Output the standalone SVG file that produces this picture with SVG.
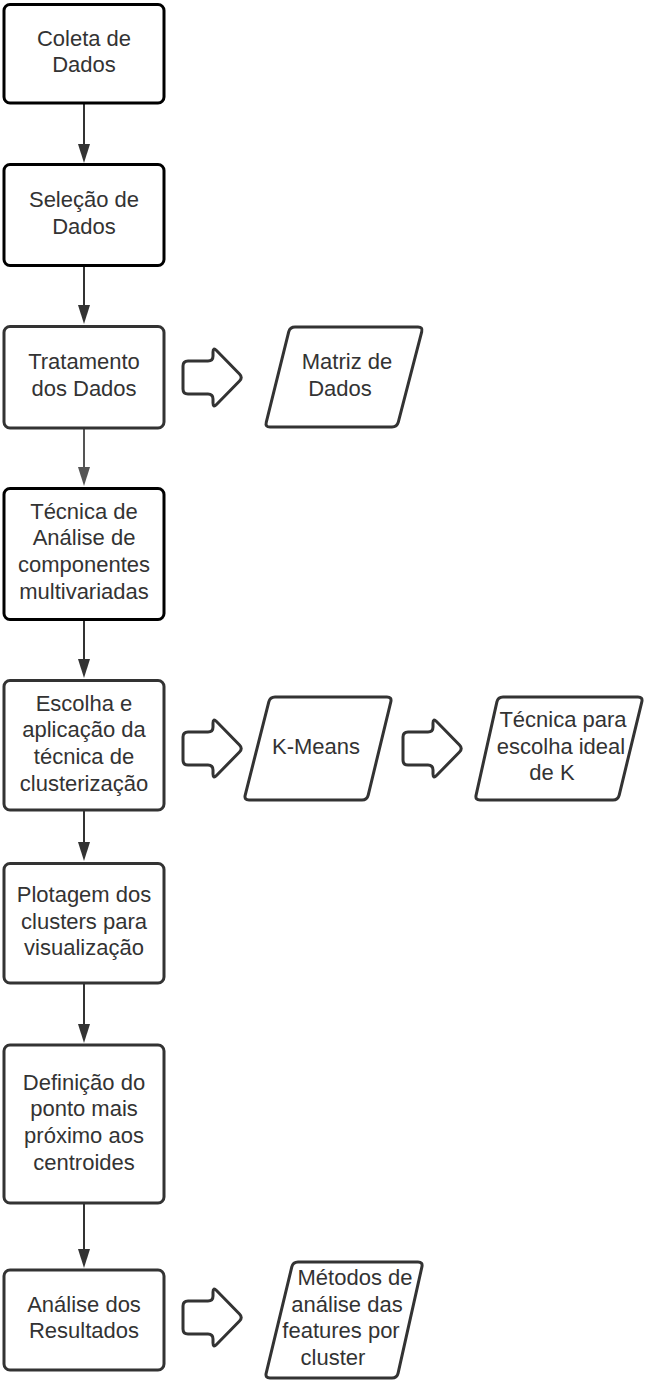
<svg xmlns="http://www.w3.org/2000/svg" xmlns:xlink="http://www.w3.org/1999/xlink" width="660" height="1384" viewBox="0 0 660 1384">
<style>
.box{fill:#fff;stroke:#333;stroke-width:3}
.dark{stroke:#000}
.para{fill:#fff;stroke:#333;stroke-width:3;stroke-linejoin:round}
.blk{fill:#fff;stroke:#333;stroke-width:3;stroke-linejoin:round}
.t{font-family:"Liberation Sans",Arial,sans-serif;font-size:22px;fill:#333;text-anchor:middle}
.ln{stroke:#333;stroke-width:2;fill:none}
.hd{fill:#333}
</style>
<defs>
<path id="blockarrow" d="M0,0 L0,-11.5 Q0,-16.5 5,-16.5 L25,-16.5 Q30,-16.5 30,-21.5 L30,-25.5 Q30,-30.5 33.5,-27 L56.5,-3.5 Q60,0 56.5,3.5 L33.5,27 Q30,30.5 30,25.5 L30,21.5 Q30,16.5 25,16.5 L5,16.5 Q0,16.5 0,11.5 Z"/>
</defs>
<rect width="660" height="1384" fill="#fff"/>
<g id="connectors">
<line class="ln" x1="84" y1="104" x2="84" y2="146"/><polygon class="hd" points="78,144 90,144 84,163"/>
<line class="ln" x1="84" y1="266" x2="84" y2="308"/><polygon class="hd" points="78,305 90,305 84,324"/>
<line class="ln" x1="84" y1="429" x2="84" y2="470" style="stroke:#555"/><polygon class="hd" points="78,467 90,467 84,486" style="fill:#555"/>
<line class="ln" x1="84" y1="621" x2="84" y2="662"/><polygon class="hd" points="78,659 90,659 84,678"/>
<line class="ln" x1="84" y1="811" x2="84" y2="845"/><polygon class="hd" points="78,842 90,842 84,861"/>
<line class="ln" x1="84" y1="984" x2="84" y2="1027"/><polygon class="hd" points="78,1024 90,1024 84,1043"/>
<line class="ln" x1="84" y1="1204" x2="84" y2="1252"/><polygon class="hd" points="78,1249 90,1249 84,1268"/>
<use xlink:href="#blockarrow" href="#blockarrow" class="blk" transform="translate(183,377.5)"/>
<use xlink:href="#blockarrow" href="#blockarrow" class="blk" transform="translate(183,748.5)"/>
<use xlink:href="#blockarrow" href="#blockarrow" class="blk" transform="translate(403,748.5)"/>
<use xlink:href="#blockarrow" href="#blockarrow" class="blk" transform="translate(183,1317.5)"/>
</g>
<g id="n1"><rect class="box dark" x="4" y="4.5" width="160" height="98.5" rx="6"/>
<text class="t" x="84" y="45.7">Coleta de</text><text class="t" x="84" y="72.4">Dados</text></g>
<g id="n2"><rect class="box dark" x="4" y="164.5" width="160" height="101" rx="6"/>
<text class="t" x="84" y="207">Seleção de</text><text class="t" x="84" y="233.8">Dados</text></g>
<g id="n3"><rect class="box" x="4" y="326.5" width="160" height="101.5" rx="6"/>
<text class="t" x="84" y="369">Tratamento</text><text class="t" x="84" y="395.7">dos Dados</text></g>
<g id="n4"><rect class="box dark" x="4" y="488.5" width="160" height="131" rx="6"/>
<text class="t" x="84" y="518.5">Técnica de</text><text class="t" x="84" y="545.2">Análise de</text><text class="t" x="84" y="571.9">componentes</text><text class="t" x="84" y="598.6">multivariadas</text></g>
<g id="n5"><rect class="box" x="4" y="680.5" width="160" height="129.5" rx="6"/>
<text class="t" x="84" y="710.5">Escolha e</text><text class="t" x="84" y="737.2">aplicação da</text><text class="t" x="84" y="763.9">técnica de</text><text class="t" x="84" y="790.6">clusterização</text></g>
<g id="n6"><rect class="box" x="4" y="863.5" width="160" height="119.5" rx="6"/>
<text class="t" x="84" y="901.8">Plotagem dos</text><text class="t" x="84" y="928.5">clusters para</text><text class="t" x="84" y="955.2">visualização</text></g>
<g id="n7"><rect class="box" x="4" y="1045" width="160" height="158" rx="6"/>
<text class="t" x="84" y="1089.5">Definição do</text><text class="t" x="84" y="1116.2">ponto mais</text><text class="t" x="84" y="1142.9">próximo aos</text><text class="t" x="84" y="1169.6">centroides</text></g>
<g id="n8"><rect class="box" x="4" y="1270" width="160" height="100" rx="6"/>
<text class="t" x="84" y="1311.5">Análise dos</text><text class="t" x="84" y="1338.2">Resultados</text></g>
<g id="p1"><path class="para dark" d="M295,327 L418,327 Q423,327 421.7,331.8 L398.3,422.2 Q397,427 392,427 L270,427 Q265,427 266.3,422.2 L288.7,331.8 Q290,327 295,327 Z"/>
<text class="t" x="347" y="369">Matriz de</text><text class="t" x="340" y="395.7">Dados</text></g>
<g id="p2"><path class="para" d="M275,697 L387,697 Q392,697 390.8,701.9 L368.2,795.1 Q367,800 362,800 L249,800 Q244,800 245.2,795.1 L268.8,701.9 Q270,697 275,697 Z"/>
<text class="t" x="316" y="754">K-Means</text></g>
<g id="p3"><path class="para" d="M503,697 L638,697 Q643,697 641.8,701.9 L619.2,795.1 Q618,800 613,800 L480,800 Q475,800 476.1,795.1 L496.9,701.9 Q498,697 503,697 Z"/>
<text class="t" x="563" y="727">Técnica para</text><text class="t" x="561" y="754">escolha ideal</text><text class="t" x="552" y="780">de K</text></g>
<g id="p4"><path class="para" d="M298,1262 L418,1262 Q423,1262 421.9,1266.9 L398.1,1373.1 Q397,1378 392,1378 L270,1378 Q265,1378 266.2,1373.1 L291.8,1266.9 Q293,1262 298,1262 Z"/>
<text class="t" x="355" y="1285">Métodos de</text><text class="t" x="347" y="1312">análise das</text><text class="t" x="341" y="1338">features por</text><text class="t" x="333" y="1365">cluster</text></g>
</svg>
